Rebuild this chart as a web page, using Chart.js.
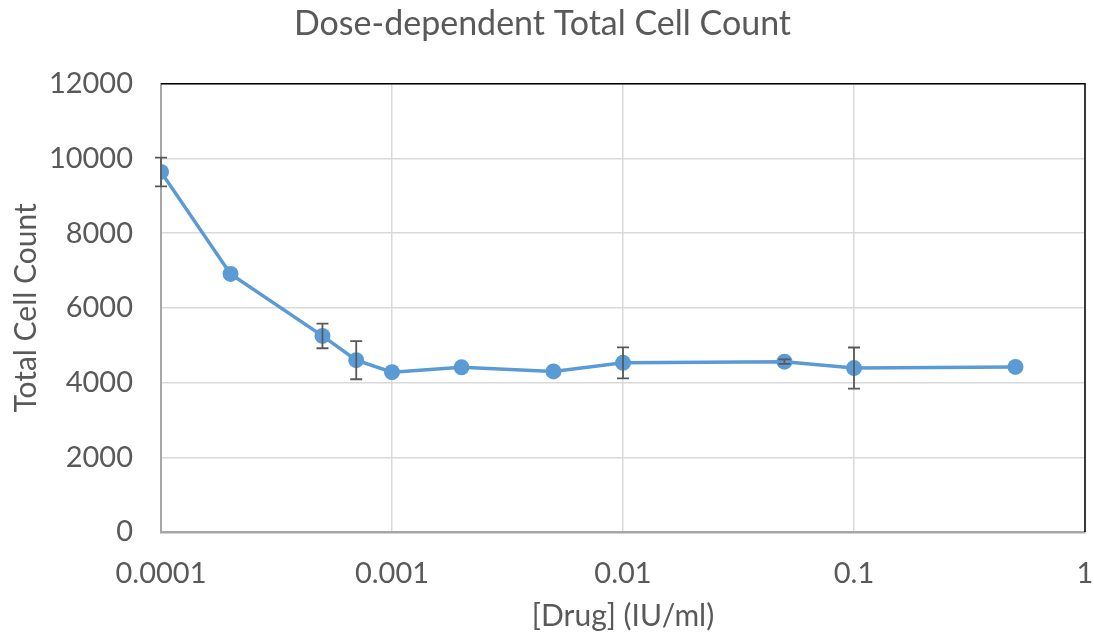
<!DOCTYPE html>
<html>
<head>
<meta charset="utf-8">
<script src="https://cdn.jsdelivr.net/npm/chart.js@4/dist/chart.umd.min.js"></script>
<style>
  html, body { margin: 0; padding: 0; background: #fff; }
  #wrap { width: 1094px; height: 634px; }
</style>
</head>
<body>
<div id="wrap"><canvas id="cellChart" width="1094" height="634"></canvas></div>
<script>
// doses in IU/ml
var doses = [0.0001, 0.0002, 0.0005, 0.0007, 0.001, 0.002, 0.005, 0.01, 0.05, 0.1, 0.5];
var cellCounts = [9640, 6910, 5250, 4600, 4280, 4410, 4300, 4530, 4560, 4390, 4420];
var countErrors = [385, 0, 330, 510, 0, 0, 0, 415, 60, 550, 0];
var xTickValues = [0.0001, 0.001, 0.01, 0.1, 1];
var xTickLabels = ['0.0001', '0.001', '0.01', '0.1', '1'];

var blue = '#5b9bd5';
var fontFam = 'Lato, "Open Sans", sans-serif';

var points = doses.map(function(d, i){ return {x: d, y: cellCounts[i]}; });

// error bars drawn with the chart's own scales
var errorBars = {
  id: 'errorBars',
  afterDatasetsDraw: function(chart){
    var ctx = chart.ctx, xs = chart.scales.x, ys = chart.scales.y;
    ctx.save();
    ctx.strokeStyle = '#595959';
    ctx.lineWidth = 1.8;
    doses.forEach(function(d, i){
      var e = countErrors[i];
      if (!e) return;
      var px = xs.getPixelForValue(d);
      var top = ys.getPixelForValue(cellCounts[i] + e);
      var bot = ys.getPixelForValue(cellCounts[i] - e);
      ctx.beginPath();
      ctx.moveTo(px, top); ctx.lineTo(px, bot);
      ctx.moveTo(px - 6, top); ctx.lineTo(px + 6, top);
      ctx.moveTo(px - 6, bot); ctx.lineTo(px + 6, bot);
      ctx.stroke();
    });
    ctx.restore();
  }
};

// black top/right frame like the original plot area
var frame = {
  id: 'frame',
  beforeDatasetsDraw: function(chart){
    var a = chart.chartArea, ctx = chart.ctx;
    ctx.save();
    ctx.strokeStyle = '#000';
    ctx.lineWidth = 1.5;
    ctx.beginPath();
    ctx.moveTo(a.left, a.top); ctx.lineTo(a.right, a.top); ctx.lineTo(a.right, a.bottom);
    ctx.stroke();
    ctx.restore();
  }
};

new Chart(document.getElementById('cellChart').getContext('2d'), {
  type: 'line',
  data: {
    datasets: [{
      label: 'Total Cell Count',
      data: points,
      borderColor: blue,
      backgroundColor: blue,
      borderWidth: 3.5,
      pointRadius: 8,
      pointHoverRadius: 8,
      pointBorderWidth: 0,
      tension: 0
    }]
  },
  options: {
    responsive: false,
    animation: false,
    layout: { padding: { left: 0, right: 9, top: 0, bottom: 0 } },
    plugins: {
      legend: { display: false },
      tooltip: { enabled: false },
      title: {
        display: true,
        text: 'Dose-dependent Total Cell Count',
        color: '#595959',
        font: { family: fontFam, size: 34, weight: 'normal' },
        padding: { top: 4, bottom: 39 }
      }
    },
    scales: {
      x: {
        type: 'logarithmic',
        min: 0.0001,
        max: 1,
        afterBuildTicks: function(scale){
          scale.ticks = xTickValues.map(function(v){ return {value: v}; });
        },
        afterFit: function(scale){
          scale.height = 102;
          scale.paddingLeft = 0;
          scale.paddingRight = 0;
        },
        ticks: {
          color: '#595959',
          font: { family: fontFam, size: 29 },
          maxRotation: 0,
          padding: 24,
          callback: function(v){
            var i = xTickValues.indexOf(v);
            return i >= 0 ? xTickLabels[i] : '';
          }
        },
        grid: { color: '#d9d9d9', lineWidth: 1.5, drawTicks: false },
        border: { color: '#a6a6a6', width: 2.5 },
        title: {
          display: true,
          text: '[Drug] (IU/ml)',
          color: '#595959',
          font: { family: fontFam, size: 30 },
          padding: { top: 8, bottom: 0 }
        }
      },
      y: {
        min: 0,
        max: 12000,
        afterFit: function(scale){ scale.width = 161; },
        ticks: {
          stepSize: 2000,
          color: '#595959',
          font: { family: fontFam, size: 29 },
          padding: 28,
          callback: function(v){ return String(v); }
        },
        grid: { color: '#d9d9d9', lineWidth: 1.5, drawTicks: false },
        border: { color: '#a6a6a6', width: 2 },
        title: {
          display: true,
          text: 'Total Cell Count',
          color: '#595959',
          font: { family: fontFam, size: 30 },
          padding: { top: 8, bottom: 0 }
        }
      }
    }
  },
  plugins: [frame, errorBars]
});
</script>
</body>
</html>
